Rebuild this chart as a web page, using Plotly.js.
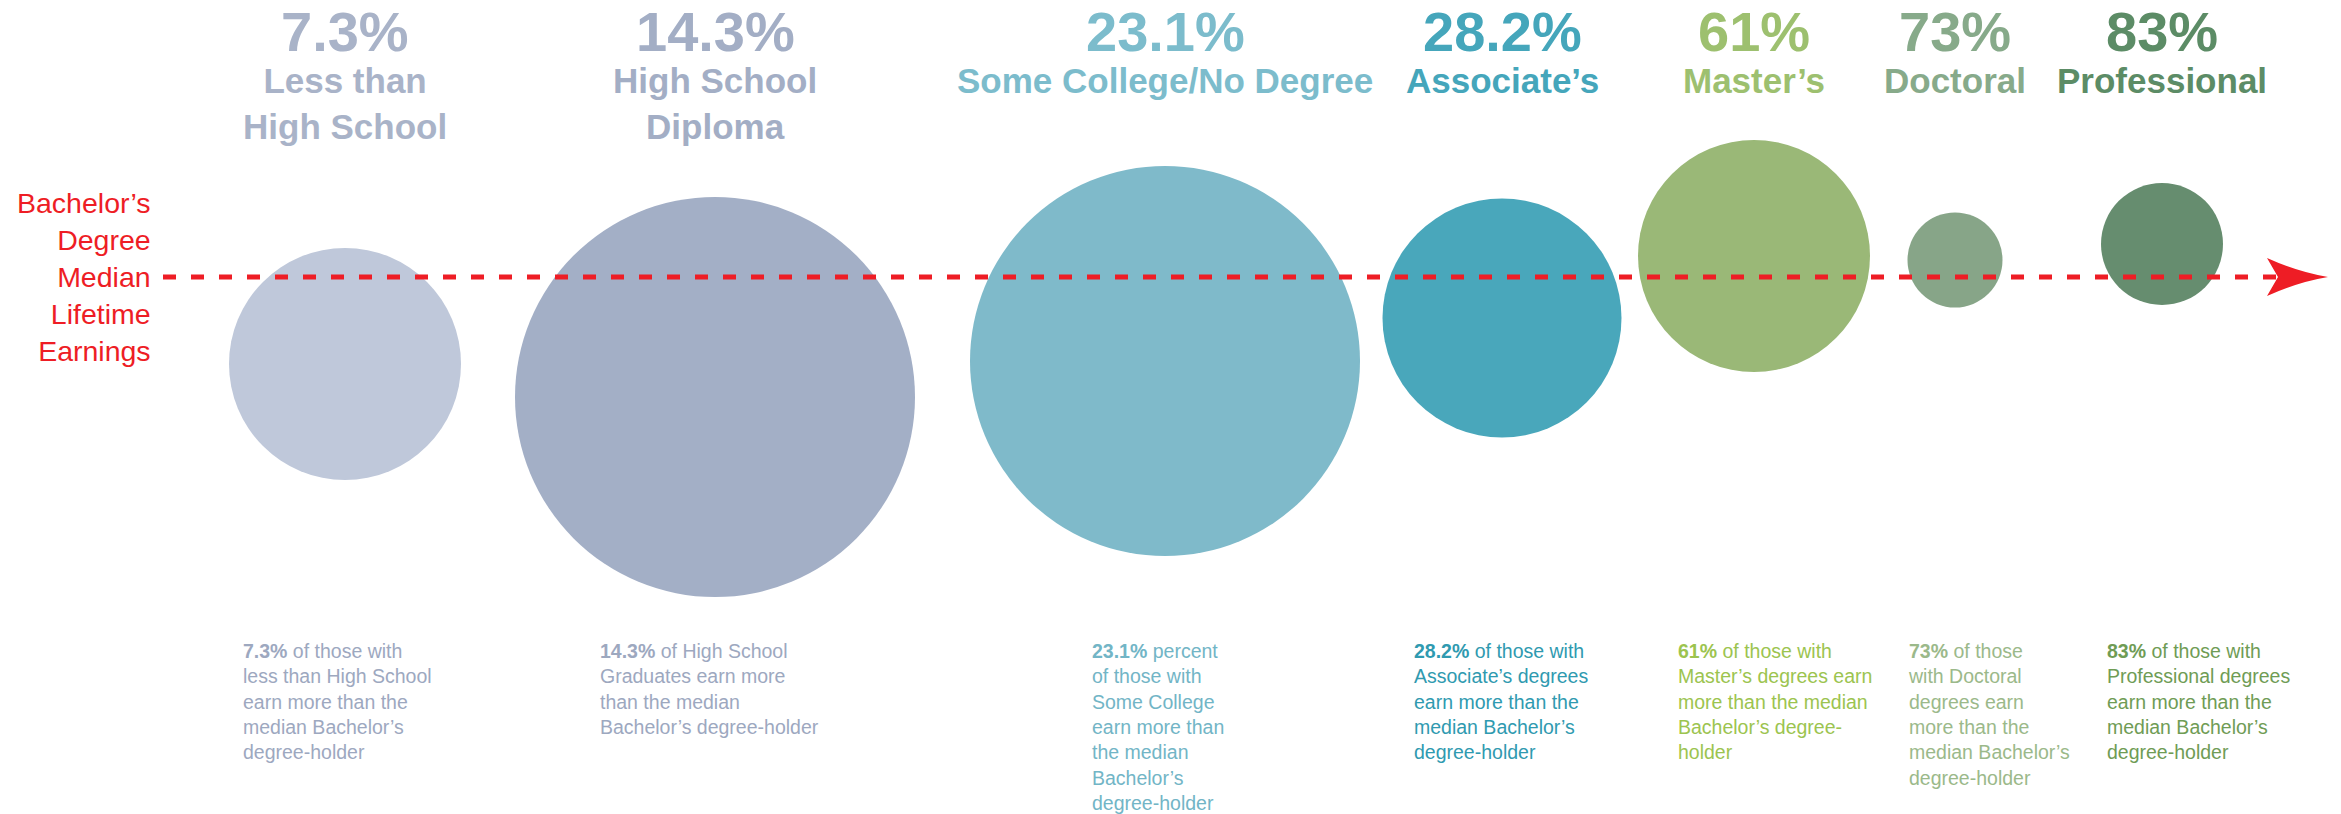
<!DOCTYPE html>
<html>
<head>
<meta charset="utf-8">
<script src="https://cdn.plot.ly/plotly-3.0.1.min.js"></script>
<style>
  html, body { margin: 0; padding: 0; background: #ffffff; }
  #chart { width: 2341px; height: 814px; }
</style>
</head>
<body>
<div id="chart"></div>
<script>
// ---- data ----
const categories = ["Less than High School", "High School Diploma", "Some College/No Degree",
  "Associate’s", "Master’s", "Doctoral", "Professional"];
const titleLabels = ["Less than<br>High School", "High School<br>Diploma", "Some College/No Degree",
  "Associate’s", "Master’s", "Doctoral", "Professional"];
const pctValues = [7.3, 14.3, 23.1, 28.2, 61, 73, 83];
const pctLabels = ["7.3%", "14.3%", "23.1%", "28.2%", "61%", "73%", "83%"];
// bubble placement along the track, earnings relative to the Bachelor's median, bubble size
const bubbleX = [345, 715, 1165, 1502, 1754, 1955, 2162];
const bubbleRel = [-87, -120, -84, -41, 21, 17, 33];
const bubbleSize = [232, 400, 390, 239, 232, 95, 122];
const descriptions = [
  "of those with<br>less than High School<br>earn more than the<br>median Bachelor’s<br>degree-holder",
  "of High School<br>Graduates earn more<br>than the median<br>Bachelor’s degree-holder",
  "percent<br>of those with<br>Some College<br>earn more than<br>the median<br>Bachelor’s<br>degree-holder",
  "of those with<br>Associate’s degrees<br>earn more than the<br>median Bachelor’s<br>degree-holder",
  "of those with<br>Master’s degrees earn<br>more than the median<br>Bachelor’s degree-<br>holder",
  "of those<br>with Doctoral<br>degrees earn<br>more than the<br>median Bachelor’s<br>degree-holder",
  "of those with<br>Professional degrees<br>earn more than the<br>median Bachelor’s<br>degree-holder"
];
const medianLabel = "Bachelor’s<br>Degree<br>Median<br>Lifetime<br>Earnings";

// ---- styles / layout ----
const bubbleColors = ["#bfc8da", "#a3afc6", "#7fbaca", "#49a7bb", "#9ab877", "#87a588", "#668d6f"];
const titleColors  = ["#a9b3c8", "#a3aec5", "#7cbccc", "#45a6bb", "#9dc06f", "#87aa8a", "#5c8c66"];
const descColors   = ["#9da8bf", "#9da8bf", "#72b5c6", "#2f9ab0", "#9cc44f", "#9bb98a", "#6f9c55"];
const descX = [241, 598, 1090, 1412, 1676, 1906, 2105];
const FONT = "'Liberation Sans', Arial, Helvetica, sans-serif";
const RED = "#ee1d25";
const lineStart = 163, lineEnd = 2282, arrowTip = 2328;

const traces = [
  {
    type: "scatter", mode: "markers",
    x: bubbleX, y: bubbleRel,
    text: categories, hoverinfo: "text",
    marker: { size: bubbleSize, sizemode: "diameter", sizeref: 1,
      color: bubbleColors, opacity: 1, line: { width: 0 } }
  },
  {
    type: "scatter", mode: "lines",
    x: [lineStart, lineEnd], y: [0, 0],
    line: { color: RED, width: 5, dash: "13px,15px" },
    hoverinfo: "skip"
  }
];

const annotations = [];
for (let i = 0; i < categories.length; i++) {
  annotations.push({
    x: bubbleX[i], y: 246, xref: "x", yref: "y",
    text: "<b>" + pctLabels[i] + "</b>", showarrow: false,
    xanchor: "center", yanchor: "middle",
    font: { family: FONT, size: 56, color: titleColors[i] }
  });
  annotations.push({
    x: bubbleX[i], y: 218, xref: "x", yref: "y",
    text: "<b>" + titleLabels[i] + "</b>", showarrow: false,
    xanchor: "center", yanchor: "top", align: "center",
    font: { family: FONT, size: 35, color: titleColors[i] }
  });
  annotations.push({
    x: descX[i], y: -361, xref: "x", yref: "y",
    text: "<b>" + pctLabels[i] + "</b> " + descriptions[i], showarrow: false,
    xanchor: "left", yanchor: "top", align: "left",
    font: { family: FONT, size: 19.5, color: descColors[i] }
  });
}
annotations.push({
  x: 153, y: 0, xref: "x", yref: "y",
  text: medianLabel, showarrow: false,
  xanchor: "right", yanchor: "middle", align: "right",
  font: { family: FONT, size: 28.5, color: RED }
});

const layout = {
  width: 2341, height: 814,
  margin: { l: 0, r: 0, t: 0, b: 0, pad: 0 },
  paper_bgcolor: "#ffffff", plot_bgcolor: "#ffffff",
  showlegend: false,
  xaxis: { range: [0, 2341], visible: false, fixedrange: true },
  yaxis: { range: [-537, 277], visible: false, fixedrange: true },
  annotations: annotations,
  shapes: [{
    type: "path", xref: "x", yref: "y",
    xsizemode: "pixel", ysizemode: "pixel",
    xanchor: arrowTip, yanchor: 0,
    path: "M0,0 Q-30,5 -61,19 L-50,0 L-61,-19 Q-30,-5 0,0 Z",
    fillcolor: RED, line: { width: 0 }, layer: "above"
  }]
};

Plotly.newPlot("chart", traces, layout, { staticPlot: true, displayModeBar: false });
</script>
</body>
</html>
